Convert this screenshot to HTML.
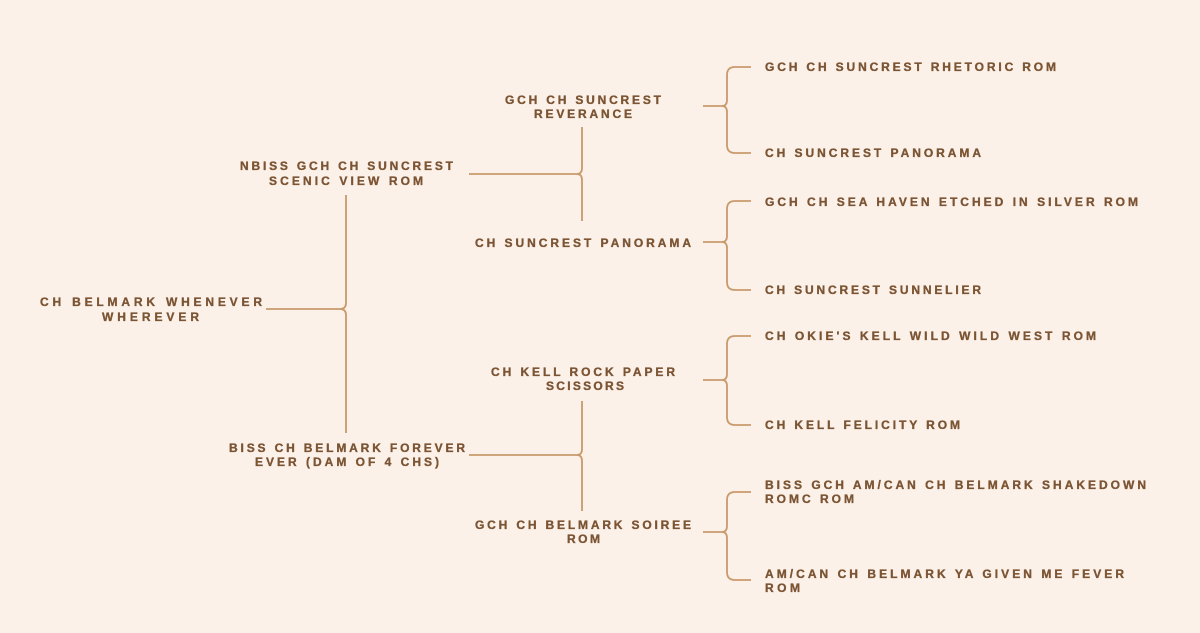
<!DOCTYPE html>
<html><head><meta charset="utf-8"><style>
html,body{margin:0;padding:0;background:#fcf1e9;}
svg{display:block;}
text{font-family:"Liberation Sans",sans-serif;font-weight:bold;font-size:12px;fill:#7b5433;stroke:#7b5433;stroke-width:0.35;}
path{fill:none;stroke:#c99a6c;stroke-width:1.8;}
</style></head><body>
<svg width="1200" height="633" viewBox="0 0 1200 633" xmlns="http://www.w3.org/2000/svg">
<rect width="1200" height="633" fill="#fcf1e9" stroke="none"/>
<path d="M266,309 H340"/>
<path d="M346,195 V303 Q346,309 340,309 Q346,309 346,315 V433"/>
<path d="M469,174 H577"/>
<path d="M582,127 V168 Q582,174 577,174 Q582,174 582,180 V221"/>
<path d="M469,455 H577"/>
<path d="M582,401 V449 Q582,455 577,455 Q582,455 582,461 V511"/>
<path d="M703,106 H722"/>
<path d="M751,67 H735 Q727,67 727,75 V100 Q727,106 722,106 Q727,106 727,112 V145 Q727,153 735,153 H751"/>
<path d="M703,242 H722"/>
<path d="M751,201 H735 Q727,201 727,209 V236 Q727,242 722,242 Q727,242 727,248 V282 Q727,290 735,290 H751"/>
<path d="M703,380 H722"/>
<path d="M751,336 H735 Q727,336 727,344 V374 Q727,380 722,380 Q727,380 727,386 V417 Q727,425 735,425 H751"/>
<path d="M703,532 H722"/>
<path d="M751,492 H735 Q727,492 727,500 V526 Q727,532 722,532 Q727,532 727,538 V572 Q727,580 735,580 H751"/>

<text x="40" y="306" textLength="222" lengthAdjust="spacing">CH BELMARK WHENEVER</text>
<text x="102" y="321" textLength="97" lengthAdjust="spacing">WHEREVER</text>
<text x="240" y="170" textLength="213" lengthAdjust="spacing">NBISS GCH CH SUNCREST</text>
<text x="269" y="185" textLength="154" lengthAdjust="spacing">SCENIC VIEW ROM</text>
<text x="229" y="452" textLength="236" lengthAdjust="spacing">BISS CH BELMARK FOREVER</text>
<text x="255" y="466" textLength="184" lengthAdjust="spacing">EVER (DAM OF 4 CHS)</text>
<text x="505" y="104" textLength="156" lengthAdjust="spacing">GCH CH SUNCREST</text>
<text x="534" y="118" textLength="98" lengthAdjust="spacing">REVERANCE</text>
<text x="475" y="247" textLength="216" lengthAdjust="spacing">CH SUNCREST PANORAMA</text>
<text x="491" y="376" textLength="184" lengthAdjust="spacing">CH KELL ROCK PAPER</text>
<text x="546" y="390" textLength="78" lengthAdjust="spacing">SCISSORS</text>
<text x="475" y="529" textLength="216" lengthAdjust="spacing">GCH CH BELMARK SOIREE</text>
<text x="567" y="543" textLength="33" lengthAdjust="spacing">ROM</text>
<text x="765" y="71" textLength="291" lengthAdjust="spacing">GCH CH SUNCREST RHETORIC ROM</text>
<text x="765" y="157" textLength="216" lengthAdjust="spacing">CH SUNCREST PANORAMA</text>
<text x="765" y="206" textLength="373" lengthAdjust="spacing">GCH CH SEA HAVEN ETCHED IN SILVER ROM</text>
<text x="765" y="294" textLength="216" lengthAdjust="spacing">CH SUNCREST SUNNELIER</text>
<text x="765" y="340" textLength="331" lengthAdjust="spacing">CH OKIE'S KELL WILD WILD WEST ROM</text>
<text x="765" y="429" textLength="195" lengthAdjust="spacing">CH KELL FELICITY ROM</text>
<text x="765" y="489" textLength="381" lengthAdjust="spacing">BISS GCH AM/CAN CH BELMARK SHAKEDOWN</text>
<text x="765" y="503" textLength="89" lengthAdjust="spacing">ROMC ROM</text>
<text x="765" y="578" textLength="359" lengthAdjust="spacing">AM/CAN CH BELMARK YA GIVEN ME FEVER</text>
<text x="765" y="592" textLength="35" lengthAdjust="spacing">ROM</text>
</svg>
</body></html>
